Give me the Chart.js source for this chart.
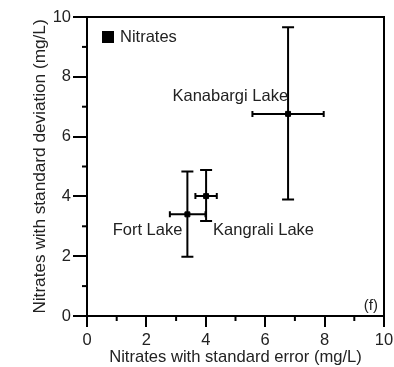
<!DOCTYPE html>
<html>
<head>
<meta charset="utf-8">
<script src="https://cdn.jsdelivr.net/npm/chart.js@4"></script>
<style>
  body { margin: 0; background: #fff; }
  #wrap { width: 394px; height: 367px; }
</style>
</head>
<body>
<div id="wrap"><canvas id="chart1"></canvas></div>
<script>
// data
var lakes = ['Kanabargi Lake', 'Fort Lake', 'Kangrali Lake'];
var meanX = [6.77, 3.38, 4.01];
var meanY = [6.76, 3.40, 4.01];
var errXLow = [5.57, 2.79, 3.65];
var errXHigh = [7.97, 3.99, 4.37];
var errYLow = [3.90, 1.98, 3.18];
var errYHigh = [9.66, 4.83, 4.88];
var axisTicks = [0, 2, 4, 6, 8, 10];

var font = 'Liberation Sans, Arial, Helvetica, sans-serif';

var points = lakes.map(function (n, i) {
    return { x: meanX[i], y: meanY[i] };
});

// error bars, minor ticks, frame, labels, legend
var extras = {
    id: 'extras',
    afterDatasetsDraw: function (chart) {
        var ctx = chart.ctx;
        var xs = chart.scales.x, ys = chart.scales.y;
        var a = chart.chartArea;
        ctx.save();
        ctx.strokeStyle = '#000';
        ctx.lineWidth = 2;

        // frame top/right
        ctx.beginPath();
        ctx.moveTo(a.left, a.top);
        ctx.lineTo(a.right, a.top);
        ctx.lineTo(a.right, a.bottom);
        ctx.stroke();

        // minor ticks
        for (var v = 1; v < 10; v += 2) {
            var px = xs.getPixelForValue(v);
            ctx.beginPath();
            ctx.moveTo(px, a.bottom);
            ctx.lineTo(px, a.bottom + 5);
            ctx.stroke();
            var py = ys.getPixelForValue(v);
            ctx.beginPath();
            ctx.moveTo(a.left, py);
            ctx.lineTo(a.left - 5, py);
            ctx.stroke();
        }

        // error bars
        lakes.forEach(function (n, i) {
            var cx = xs.getPixelForValue(meanX[i]);
            var cy = ys.getPixelForValue(meanY[i]);
            var t = ys.getPixelForValue(errYHigh[i]);
            var b = ys.getPixelForValue(errYLow[i]);
            var l = xs.getPixelForValue(errXLow[i]);
            var r = xs.getPixelForValue(errXHigh[i]);
            ctx.beginPath();
            ctx.moveTo(cx, t); ctx.lineTo(cx, b);
            ctx.moveTo(cx - 6, t); ctx.lineTo(cx + 6, t);
            ctx.moveTo(cx - 6, b); ctx.lineTo(cx + 6, b);
            ctx.moveTo(l, cy); ctx.lineTo(r, cy);
            ctx.moveTo(l, cy - 3); ctx.lineTo(l, cy + 3);
            ctx.moveTo(r, cy - 3); ctx.lineTo(r, cy + 3);
            ctx.stroke();
        });

        // point labels
        ctx.fillStyle = '#222';
        ctx.font = '16.5px ' + font;
        ctx.textBaseline = 'middle';
        var off = [[0, -17, 'right'], [-5, 16, 'right'], [7, 34, 'left']];
        lakes.forEach(function (n, i) {
            ctx.textAlign = off[i][2];
            ctx.fillText(n, xs.getPixelForValue(meanX[i]) + off[i][0], ys.getPixelForValue(meanY[i]) + off[i][1]);
        });

        // panel letter
        ctx.font = '15px ' + font;
        ctx.textAlign = 'right';
        ctx.fillText('(f)', a.right - 6, a.bottom - 10);

        // legend
        ctx.fillStyle = '#000';
        ctx.fillRect(a.left + 15, a.top + 14, 12, 12);
        ctx.fillStyle = '#222';
        ctx.font = '16.5px ' + font;
        ctx.textAlign = 'left';
        ctx.fillText(chart.data.datasets[0].label, a.left + 33, a.top + 20);
        ctx.restore();
    }
};

var chart1 = document.getElementById('chart1').getContext('2d');
var myChart = new Chart(chart1, {
    type: 'scatter',
    data: {
        datasets: [{
            label: 'Nitrates',
            data: points,
            pointStyle: 'rect',
            pointRadius: 3.5,
            backgroundColor: '#000',
            borderColor: '#000'
        }]
    },
    options: {
        responsive: true,
        maintainAspectRatio: false,
        animation: false,
        layout: { padding: { top: 17, right: 0, left: 30, bottom: 0 } },
        plugins: { legend: { display: false }, tooltip: { enabled: false } },
        scales: {
            x: {
                min: 0, max: 10,
                afterBuildTicks: function (s) { s.ticks = axisTicks.map(function (v) { return { value: v }; }); },
                afterFit: function (s) { s.height = 51; s.paddingRight = 10; },
                border: { color: '#000', width: 2 },
                grid: { drawOnChartArea: false, tickLength: 11, color: '#000', lineWidth: 2 },
                ticks: { color: '#222', padding: 4, font: { family: font, size: 16.5 } },
                title: { display: true, text: 'Nitrates with standard error (mg/L)', color: '#222', padding: { top: 2, bottom: 0 }, font: { family: font, size: 16.6 } }
            },
            y: {
                min: 0, max: 10,
                afterBuildTicks: function (s) { s.ticks = axisTicks.map(function (v) { return { value: v }; }); },
                afterFit: function (s) { s.width = 57; },
                border: { color: '#000', width: 2 },
                grid: { drawOnChartArea: false, tickLength: 14, color: '#000', lineWidth: 2 },
                ticks: { color: '#222', padding: 2, font: { family: font, size: 16.5 } },
                title: { display: true, text: 'Nitrates with standard deviation (mg/L)', color: '#222', padding: { top: 0, bottom: 0 }, font: { family: font, size: 17.2 } }
            }
        }
    },
    plugins: [extras]
});
</script>
</body>
</html>
